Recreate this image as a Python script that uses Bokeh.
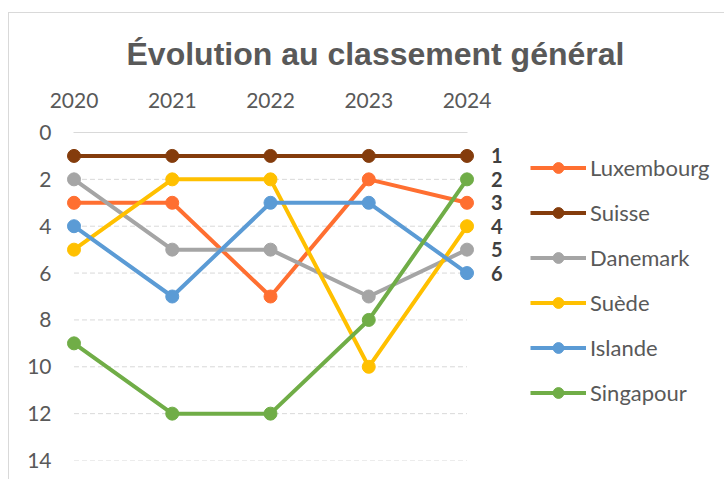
from bokeh.plotting import figure
from bokeh.models import Range1d, FixedTicker, Legend, LegendItem, Title
from bokeh.core.properties import value
from bokeh.embed import file_html
from bokeh.resources import INLINE

# ---- data ----
title_text = "Évolution au classement général"
years = [2020, 2021, 2022, 2023, 2024]
countries = ["Luxembourg", "Suisse", "Danemark", "Suède", "Islande", "Singapour"]
luxembourg = [3, 3, 7, 2, 3]
suisse = [1, 1, 1, 1, 1]
danemark = [2, 5, 5, 7, 5]
suede = [5, 2, 2, 10, 4]
islande = [4, 7, 3, 3, 6]
singapour = [9, 12, 12, 8, 2]
series = [luxembourg, suisse, danemark, suede, islande, singapour]
colors = ["#FF6F31", "#843C0C", "#A5A5A5", "#FFC000", "#5B9BD5", "#70AD47"]
rank_ticks = [0, 2, 4, 6, 8, 10, 12, 14]
final_ranks = sorted(s[-1] for s in series)
final_labels = [str(r) for r in final_ranks]

FONT = "Lato"
GREY = "#595959"

p = figure(
    width=716, height=467,
    x_range=Range1d(2019.883, 2026.631),
    y_range=Range1d(14, 0),
    x_axis_location="above",
    output_backend="svg", toolbar_location=None,
    min_border_left=53, min_border_right=0,
    min_border_top=119, min_border_bottom=20,
    background_fill_color="white", border_fill_color="white",
    outline_line_color=None,
    styles={"margin-top": "12px", "margin-left": "8px",
            "border-left": "1px solid #d9d9d9",
            "border-top": "1px solid #d9d9d9"},
)
p.grid.visible = False

# dashed grid lines across the category span
p.segment(x0=years[0], x1=years[-1], y0=rank_ticks[1:], y1=rank_ticks[1:],
          line_color="#d9d9d9", line_width=1, line_dash="5 3")

# axes
xa = p.xaxis[0]
xa.ticker = FixedTicker(ticks=years)
xa.bounds = (years[0], years[-1])
xa.axis_line_color = "#d9d9d9"
xa.axis_line_width = 1
xa.major_tick_line_color = None
xa.minor_tick_line_color = None
xa.major_tick_out = 0
xa.major_tick_in = 0
xa.major_label_standoff = 25
xa.major_label_text_font = FONT
xa.major_label_text_font_size = "21px"
xa.major_label_text_color = GREY

ya = p.yaxis[0]
ya.ticker = FixedTicker(ticks=rank_ticks)
ya.axis_line_color = None
ya.major_tick_line_color = None
ya.minor_tick_line_color = None
ya.major_tick_out = 0
ya.major_tick_in = 0
ya.major_label_standoff = 11
ya.major_label_text_font = FONT
ya.major_label_text_font_size = "21px"
ya.major_label_text_color = GREY

items = []
for name, vals, col in zip(countries, series, colors):
    lr = p.line(years, vals, line_color=col, line_width=4)
    sr = p.scatter(years, vals, size=13, fill_color=col, line_color=col)
    items.append(LegendItem(label=name, renderers=[lr, sr]))

p.text(x=[years[-1]] * len(final_ranks), y=final_ranks, text=final_labels,
       x_offset=24, text_align="left", text_baseline="middle",
       text_font=value(FONT), text_font_style="bold", text_font_size="20px",
       text_color="#404040")

legend = Legend(items=items, location=(468, 54), orientation="vertical",
                padding=0, margin=0, spacing=18, glyph_width=56, glyph_height=27,
                label_height=27, label_standoff=4,
                label_text_font=FONT, label_text_font_size="22px",
                label_text_color=GREY, border_line_color=None,
                background_fill_alpha=0)
p.add_layout(legend, "center")

title = Title(text=title_text, align="left", offset=64, standoff=36,
              text_font="Liberation Sans", text_font_style="bold",
              text_font_size="32px", text_color=GREY)
p.add_layout(title, "above")

open("out.html", "w").write(file_html(p, INLINE))
